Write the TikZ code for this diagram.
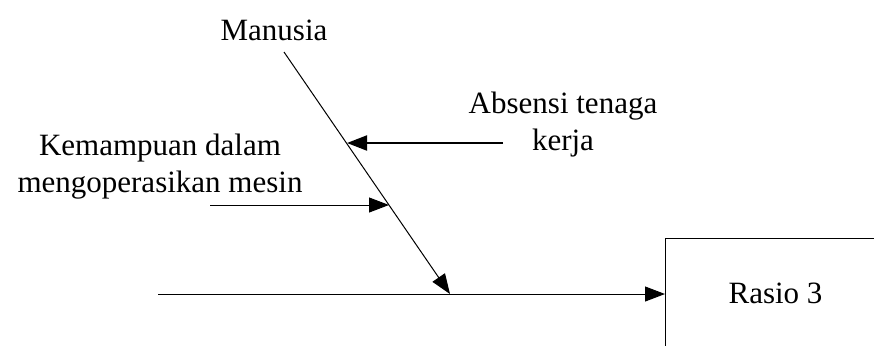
\documentclass[tikz,border=0pt]{standalone}
\usepackage{fontspec}
\setmainfont{Liberation Serif}
\usetikzlibrary{arrows.meta}
\begin{document}
\begin{tikzpicture}[x=0.5pt,y=-0.5pt,
  line width=0.5pt,
  lbl/.style={inner sep=0pt, align=center, font=\fontsize{15.5}{18.5}\selectfont},
  arr/.style={-{Triangle[length=10pt,width=7.5pt]}},
  heavy/.style={line width=1pt}]
  \useasboundingbox (0,0) rectangle (874,345);

  % effect box (runs off the right and bottom edges)
  \node[draw, inner sep=0pt, minimum width=117.5pt, minimum height=66pt,
        anchor=north west] (box) at (665,238) {};
  \node[lbl, anchor=base] (rasio) at (775.5,303) {Rasio 3};

  % main spine
  \coordinate (spine) at (158,294);
  \draw[arr] (spine) -- (spine -| box.west);

  % main cause bone
  \node[lbl, anchor=base] (manusia) at (274,40) {Manusia};
  \coordinate (bonetop) at (284,52);
  \coordinate (bonetip) at (450,294);
  \draw[arr] (bonetop) -- (bonetip);

  % sub-causes (base anchor sits on the last line)
  \node[lbl, anchor=base] (absensi) at (563,150) {Absensi tenaga\\kerja};
  \coordinate (abs0) at (503,143);
  \coordinate (abs1) at (347,143);
  \draw[arr, heavy] (abs0) -- (abs1);

  \node[lbl, anchor=base] (kemampuan) at (160,192) {Kemampuan dalam\\mengoperasikan mesin};
  \coordinate (kem0) at (210,205);
  \coordinate (kem1) at (389,205);
  \draw[arr] (kem0) -- (kem1);
\end{tikzpicture}
\end{document}
